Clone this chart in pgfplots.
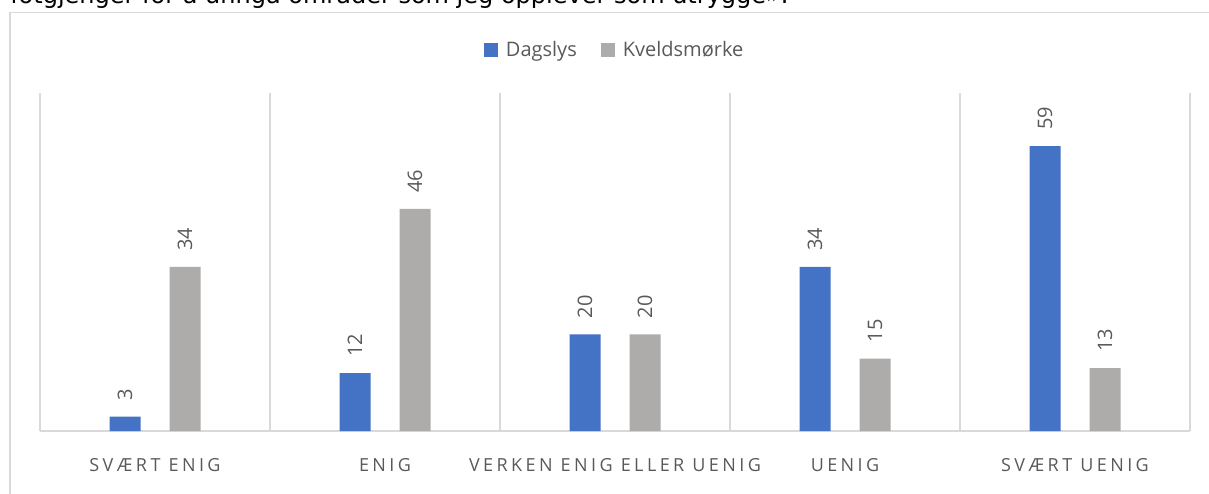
\documentclass[border=0pt]{standalone}
\usepackage{pgfplots}
\pgfplotsset{compat=1.18}
\usepackage{fontspec}
\setmainfont{Open Sans}
\newfontfamily\dejavu{DejaVu Sans}
\newfontfamily\spaced[LetterSpace=19]{Open Sans}
\definecolor{barblue}{HTML}{4472C4}
\definecolor{bargray}{HTML}{AEABAB}
\definecolor{gridgray}{HTML}{D9D9D9}
\definecolor{labelgray}{HTML}{595959}
\begin{document}
\begin{tikzpicture}
\path[use as bounding box] (0,0) rectangle (906.75pt,369.75pt);
\begin{scope}
\clip (0,0) rectangle (906.75pt,369.75pt);
\draw[color=gridgray, line width=1.2pt] (7.5pt,-20pt) -- (7.5pt,360.4pt) -- (930pt,360.4pt);
\node[anchor=base west, inner sep=0pt, font=\dejavu\fontsize{18}{21}\selectfont] at (7.5pt,366.75pt) {fotgjenger for å unngå områder som jeg opplever som utrygge».};
\end{scope}
\begin{axis}[at={(30pt,46.5pt)}, anchor=south west, scale only axis,
  width=862.5pt, height=253.5pt,
  /pgf/number format/assume math mode=true,
  ybar, ymin=0, ymax=70, xmin=-0.5, xmax=4.5,
  axis y line=none, axis x line*=bottom,
  x axis line style={draw=gridgray, line width=1.2pt, -},
  xtick={0,1,2,3,4},
  xticklabels={SVÆRT ENIG, ENIG, VERKEN ENIG ELLER UENIG, UENIG, SVÆRT UENIG},
  major tick length=0pt,
  minor xtick={-0.5,0.5,1.5,2.5,3.5,4.5}, minor tick length=0pt,
  xminorgrids, minor grid style={draw=gridgray, line width=1.2pt},
  xticklabel style={font=\spaced\fontsize{13.5}{16}\selectfont, text=labelgray, anchor=base, yshift=-30pt},
  bar width=23.25pt,
  nodes near coords,
  nodes near coords style={rotate=90, anchor=west, inner xsep=12pt, font=\fontsize{15}{18}\selectfont, text=labelgray},
  legend columns=2,
  legend style={at={(0.5,1)}, anchor=center, yshift=32pt, draw=none, fill=none,
    font=\fontsize{15}{18}\selectfont, text=labelgray,
    /tikz/every odd column/.append style={column sep=4pt},
    /tikz/every even column/.append style={column sep=16pt}},
]
\addplot[fill=barblue, draw=none, bar shift=-22.5pt,
  legend image code/.code={\fill[barblue] (0pt,-5pt) rectangle (10.5pt,5.5pt);}]
  coordinates {(0,3) (1,12) (2,20) (3,34) (4,59)};
\addlegendentry{Dagslys}
\addplot[fill=bargray, draw=none, bar shift=22.5pt,
  legend image code/.code={\fill[bargray] (0pt,-5pt) rectangle (10.5pt,5.5pt);}]
  coordinates {(0,34) (1,46) (2,20) (3,15) (4,13)};
\addlegendentry{Kveldsmørke}
\end{axis}
\end{tikzpicture}
\end{document}
